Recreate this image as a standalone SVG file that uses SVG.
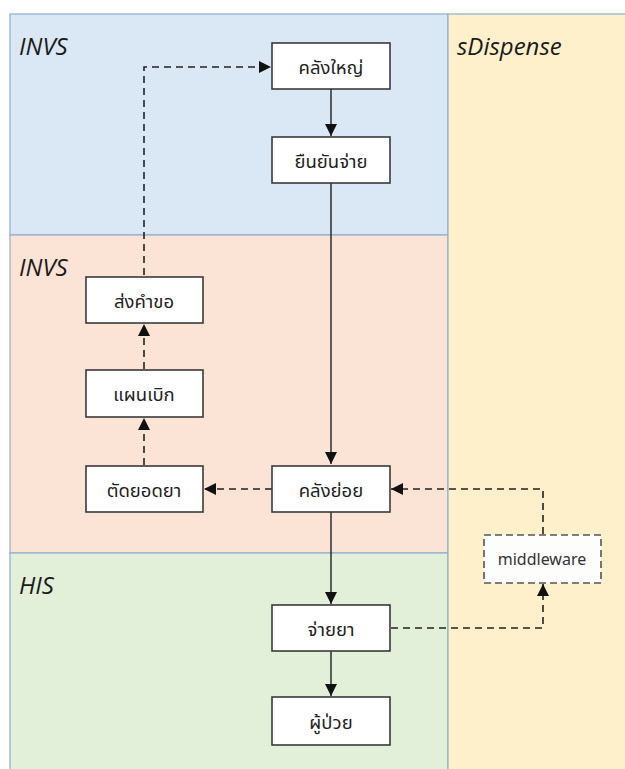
<svg xmlns="http://www.w3.org/2000/svg" width="625" height="769" viewBox="0 0 625 769">
<style>
.lane{stroke:#8fb0cc;stroke-width:1.2}
.lbl{font-family:"Open Sans","Noto Sans",sans-serif;font-style:italic;font-size:24px;fill:#1a1a1a}
.box{fill:#ffffff;stroke:#3a3a3a;stroke-width:1.6}
.mw{fill:#fdfdfb;stroke:#555;stroke-width:1.6;stroke-dasharray:7 4}
.t{font-family:"Noto Sans","Noto Sans Thai","Noto Sans Thai UI",sans-serif;font-size:18.5px;font-weight:400;fill:#1e1e1e;text-anchor:middle;dominant-baseline:central}
.tm{font-family:"Noto Sans",sans-serif;font-size:16px;fill:#333;text-anchor:middle;dominant-baseline:central}
.s{fill:none;stroke:#222;stroke-width:1.4}
.d{fill:none;stroke:#222;stroke-width:1.6;stroke-dasharray:7 5}
</style>
<defs>
<marker id="ah" viewBox="0 0 12 12" refX="12" refY="6" markerWidth="12" markerHeight="12" markerUnits="userSpaceOnUse" orient="auto">
<path d="M0,0 L12,6 L0,12 z" fill="#111"/>
</marker>
</defs>
<rect width="625" height="769" fill="#ffffff"/>
<g id="lanes">
<rect class="lane" x="10" y="14" width="438" height="221" fill="#dae7f4"/>
<rect class="lane" x="10" y="235" width="438" height="318" fill="#fbe3d5"/>
<rect class="lane" x="10" y="553" width="438" height="220" fill="#e2efd9"/>
<rect class="lane" x="448" y="14" width="180" height="759" fill="#fff0cc"/>
<text class="lbl" x="19" y="55">INVS</text>
<text class="lbl" x="19" y="276">INVS</text>
<text class="lbl" x="19" y="594">HIS</text>
<text class="lbl" x="457" y="55">sDispense</text>
</g>
<g id="connectors">
<path class="d" d="M144,275 V67 H271" marker-end="url(#ah)"/>
<path class="s" d="M331,89 V136" marker-end="url(#ah)"/>
<path class="s" d="M331,183 V464" marker-end="url(#ah)"/>
<path class="d" d="M272,489 H204" marker-end="url(#ah)"/>
<path class="d" d="M144,465 V418" marker-end="url(#ah)"/>
<path class="d" d="M144,369 V324" marker-end="url(#ah)"/>
<path class="s" d="M331,512 V604" marker-end="url(#ah)"/>
<path class="s" d="M331,651 V696" marker-end="url(#ah)"/>
<path class="d" d="M391,628 H543 V584" marker-end="url(#ah)"/>
<path class="d" d="M543,534 V489 H391" marker-end="url(#ah)"/>
</g>
<g id="n-main"><rect class="box" x="272" y="43" width="118" height="46"/><text class="t" x="331" y="66">คลังใหญ่</text></g>
<g id="n-confirm"><rect class="box" x="272" y="137" width="118" height="46"/><text class="t" x="331" y="160">ยืนยันจ่าย</text></g>
<g id="n-request"><rect class="box" x="86" y="277" width="117" height="46"/><text class="t" x="144" y="300">ส่งคำขอ</text></g>
<g id="n-plan"><rect class="box" x="86" y="370" width="117" height="47"/><text class="t" x="144" y="393">แผนเบิก</text></g>
<g id="n-deduct"><rect class="box" x="86" y="466" width="117" height="46"/><text class="t" x="144" y="489">ตัดยอดยา</text></g>
<g id="n-sub"><rect class="box" x="272" y="466" width="118" height="46"/><text class="t" x="331" y="489">คลังย่อย</text></g>
<g id="n-dispense"><rect class="box" x="272" y="605" width="118" height="46"/><text class="t" x="331" y="628">จ่ายยา</text></g>
<g id="n-patient"><rect class="box" x="272" y="697" width="118" height="48"/><text class="t" x="331" y="721">ผู้ป่วย</text></g>
<g id="n-middleware"><rect class="mw" x="484" y="535" width="117" height="48"/><text class="tm" x="542" y="559">middleware</text></g>
</svg>
